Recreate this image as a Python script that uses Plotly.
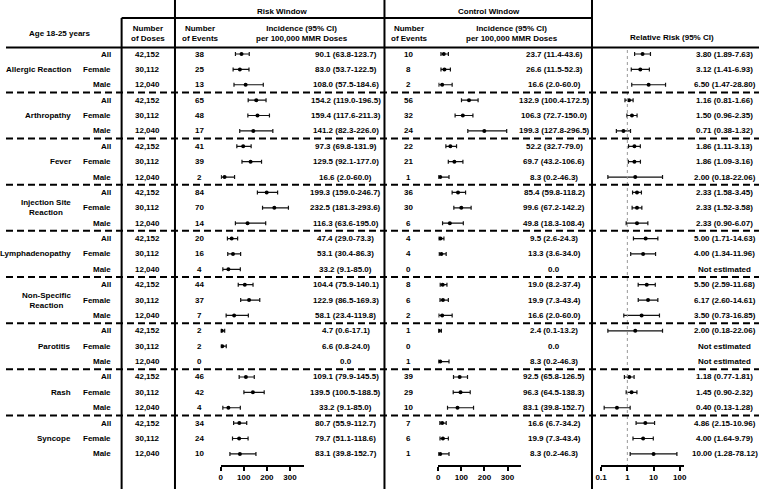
import plotly.graph_objects as go

# ---------------- data ----------------
categories = ["Allergic Reaction", "Arthropathy", "Fever", "Injection Site<br>Reaction",
              "Lymphadenopathy", "Non-Specific<br>Reaction", "Parotitis", "Rash", "Syncope"]
sexes = ["All", "Female", "Male"]
doses = [42152, 30112, 12040]

risk_events = [38, 25, 13, 65, 48, 17, 41, 39, 2, 84, 70, 14, 20, 16, 4, 44, 37, 7,
               2, 2, 0, 46, 42, 4, 34, 24, 10]
risk_inc = [90.1, 83.0, 108.0, 154.2, 159.4, 141.2, 97.3, 129.5, 16.6, 199.3, 232.5, 116.3,
            47.4, 53.1, 33.2, 104.4, 122.9, 58.1, 4.7, 6.6, 0.0, 109.1, 139.5, 33.2,
            80.7, 79.7, 83.1]
risk_lo = [63.8, 53.7, 57.5, 119.0, 117.6, 82.3, 69.8, 92.1, 2.0, 159.0, 181.3, 63.6,
           29.0, 30.4, 9.1, 75.9, 86.5, 23.4, 0.6, 0.8, None, 79.9, 100.5, 9.1,
           55.9, 51.1, 39.8]
risk_hi = [123.7, 122.5, 184.6, 196.5, 211.3, 226.0, 131.9, 177.0, 60.0, 246.7, 293.6, 195.0,
           73.3, 86.3, 85.0, 140.1, 169.3, 119.8, 17.1, 24.0, None, 145.5, 188.5, 85.0,
           112.7, 118.6, 152.7]

ctrl_events = [10, 8, 2, 56, 32, 24, 22, 21, 1, 36, 30, 6, 4, 4, 0, 8, 6, 2,
               1, 0, 1, 39, 29, 10, 7, 6, 1]
ctrl_inc = [23.7, 26.6, 16.6, 132.9, 106.3, 199.3, 52.2, 69.7, 8.3, 85.4, 99.6, 49.8,
            9.5, 13.3, 0.0, 19.0, 19.9, 16.6, 2.4, 0.0, 8.3, 92.5, 96.3, 83.1,
            16.6, 19.9, 8.3]
ctrl_lo = [11.4, 11.5, 2.0, 100.4, 72.7, 127.8, 32.7, 43.2, 0.2, 59.8, 67.2, 18.3,
           2.6, 3.6, None, 8.2, 7.3, 2.0, 0.1, None, 0.2, 65.8, 64.5, 39.8,
           6.7, 7.3, 0.2]
ctrl_hi = [43.6, 52.3, 60.0, 172.5, 150.0, 296.5, 79.0, 106.6, 46.3, 118.2, 142.2, 108.4,
           24.3, 34.0, None, 37.4, 43.4, 60.0, 13.2, None, 46.3, 126.5, 138.3, 152.7,
           34.2, 43.4, 46.3]

rr = [3.80, 3.12, 6.50, 1.16, 1.50, 0.71, 1.86, 1.86, 2.00, 2.33, 2.33, 2.33,
      5.00, 4.00, None, 5.50, 6.17, 3.50, 2.00, None, None, 1.18, 1.45, 0.40,
      4.86, 4.00, 10.00]
rr_lo = [1.89, 1.41, 1.47, 0.81, 0.96, 0.38, 1.11, 1.09, 0.18, 1.58, 1.52, 0.90,
         1.71, 1.34, None, 2.59, 2.60, 0.73, 0.18, None, None, 0.77, 0.90, 0.13,
         2.15, 1.64, 1.28]
rr_hi = [7.63, 6.93, 28.80, 1.66, 2.35, 1.32, 3.13, 3.16, 22.06, 3.45, 3.58, 6.07,
         14.63, 11.96, None, 11.68, 14.61, 16.85, 22.06, None, None, 1.81, 2.32, 1.28,
         10.96, 9.79, 78.12]

inc_ticks = [0, 100, 200, 300]
rr_ticks = [0.1, 1, 10, 100]
rr_ticklabels = ["0.1", "1", "10", "100"]

# ---------------- layout helpers ----------------
W, H = 762, 489
ROW0, ROWH = 54.0, 15.38          # pixel position of first row, row pitch
FONT = "Liberation Sans, Arial, sans-serif"
FS = 8


def px(x):
    return x / W


def py(y):
    return 1 - y / H


def row_of_pixel(y):
    return (y - ROW0) / ROWH


n_rows = len(categories) * len(sexes)
rows = list(range(n_rows))

fig = go.Figure()


def forest(xs, lo, hi, axis):
    xv, yv, ep, em = [], [], [], []
    for r in rows:
        if lo[r] is None or xs[r] is None:
            continue
        xv.append(xs[r])
        yv.append(r)
        ep.append(hi[r] - xs[r])
        em.append(xs[r] - lo[r])
    fig.add_trace(go.Scatter(
        x=xv, y=yv, xaxis=axis, yaxis="y", mode="markers",
        marker=dict(color="black", size=4, symbol="circle"),
        error_x=dict(type="data", array=ep, arrayminus=em, color="#111111",
                     thickness=1.2, width=2),
        showlegend=False, hoverinfo="skip"))


forest(risk_inc, risk_lo, risk_hi, "x")
forest(ctrl_inc, ctrl_lo, ctrl_hi, "x2")
forest(rr, rr_lo, rr_hi, "x3")

# reference line RR = 1
fig.add_trace(go.Scatter(
    x=[1, 1], y=[row_of_pixel(50), row_of_pixel(466)], xaxis="x3", yaxis="y",
    mode="lines", line=dict(color="#999999", width=1, dash="dot"),
    showlegend=False, hoverinfo="skip"))

ann = []


def txt(x, y, s, xanchor="center", yref="y"):
    ann.append(dict(x=px(x), y=y, xref="paper", yref=yref, text="<b>" + s + "</b>",
                    showarrow=False, xanchor=xanchor, yanchor="middle",
                    font=dict(family=FONT, size=FS, color="black")))


def header(x, y, s):
    txt(x, py(y), s, yref="paper")


header(54, 33.7, "Age 18-25 years")
header(143.5, 33.5, "Number<br>of Doses")
header(196.5, 33.5, "Number<br>of Events")
header(299.5, 33.5, "Incidence (95% CI)<br>per 100,000 MMR Doses")
header(279, 11, "Risk Window")
header(489, 11, "Control Window")
header(408.5, 33.5, "Number<br>of Events")
header(512, 33.5, "Incidence (95% CI)<br>per 100,000 MMR Doses")
header(674, 37.3, "Relative Risk (95% CI)")


def fmt_inc(v, lo, hi):
    if lo is None:
        return f"{v:.1f}"
    return f"{v:.1f} ({lo:.1f}-{hi:.1f})"


def fmt_rr(v, lo, hi):
    if v is None:
        return "Not estimated"
    return f"{v:.2f} ({lo:.2f}-{hi:.2f})"


for g, cat in enumerate(categories):
    txt(68, g * 3 + 1, cat, xanchor="right")
    for s, sex in enumerate(sexes):
        r = g * 3 + s
        txt(108.5, r, sex, xanchor="right")
        txt(143.5, r, f"{doses[s]:,}")
        txt(195.5, r, str(risk_events[r]))
        txt(344, r, fmt_inc(risk_inc[r], risk_lo[r], risk_hi[r]))
        txt(407.8, r, str(ctrl_events[r]))
        txt(555, r, fmt_inc(ctrl_inc[r], ctrl_lo[r], ctrl_hi[r]))
        txt(727.5, r, fmt_rr(rr[r], rr_lo[r], rr_hi[r]))

shapes = []
LW = 2


def line(x0, y0, x1, y1, dash=None, w=LW):
    d = dict(type="line", xref="paper", yref="paper", x0=px(x0), x1=px(x1),
             y0=py(y0), y1=py(y1), line=dict(color="black", width=w))
    if dash:
        d["line"]["dash"] = dash
    shapes.append(d)


line(117, 18, 593, 18)
line(0, 47.5, W, 47.5)
line(117, 18, 117, H)
for xv in (171, 383, 593):
    line(xv, 0, xv, H)

for g in range(1, len(categories)):
    yv = g * 3 - 0.5
    shapes.append(dict(type="line", xref="paper", yref="y", x0=0, x1=1, y0=yv, y1=yv,
                       line=dict(color="black", width=2, dash="7px,4px")))

axis_pos = 1 - 466 / H
common_x = dict(anchor="free", position=axis_pos, showgrid=False, zeroline=False,
                showline=True, linecolor="black", linewidth=1.5, ticks="outside",
                ticklen=4, tickwidth=1.5, tickcolor="black",
                tickfont=dict(family=FONT, size=FS, color="black", weight="bold"))

fig.update_layout(
    width=W, height=H, margin=dict(l=0, r=0, t=0, b=0),
    paper_bgcolor="white", plot_bgcolor="rgba(0,0,0,0)",
    showlegend=False,
    yaxis=dict(domain=[0, 1], range=[row_of_pixel(H), row_of_pixel(0)],
               visible=False, fixedrange=True),
    xaxis=dict(domain=[px(217.3), px(301.3)], range=[0, 360], tickvals=inc_ticks, **common_x),
    xaxis2=dict(domain=[px(437.5), px(521.5)], range=[0, 360], tickvals=inc_ticks, **common_x),
    xaxis3=dict(domain=[px(602.3), px(686)], type="log", range=[-1, 2.16],
                tickvals=rr_ticks, ticktext=rr_ticklabels, **common_x),
    annotations=ann, shapes=shapes,
)

fig.write_html(
    "out.html",
    config={"displayModeBar": False},
    post_script="document.body.style.margin='0';document.body.style.overflow='hidden';",
)
